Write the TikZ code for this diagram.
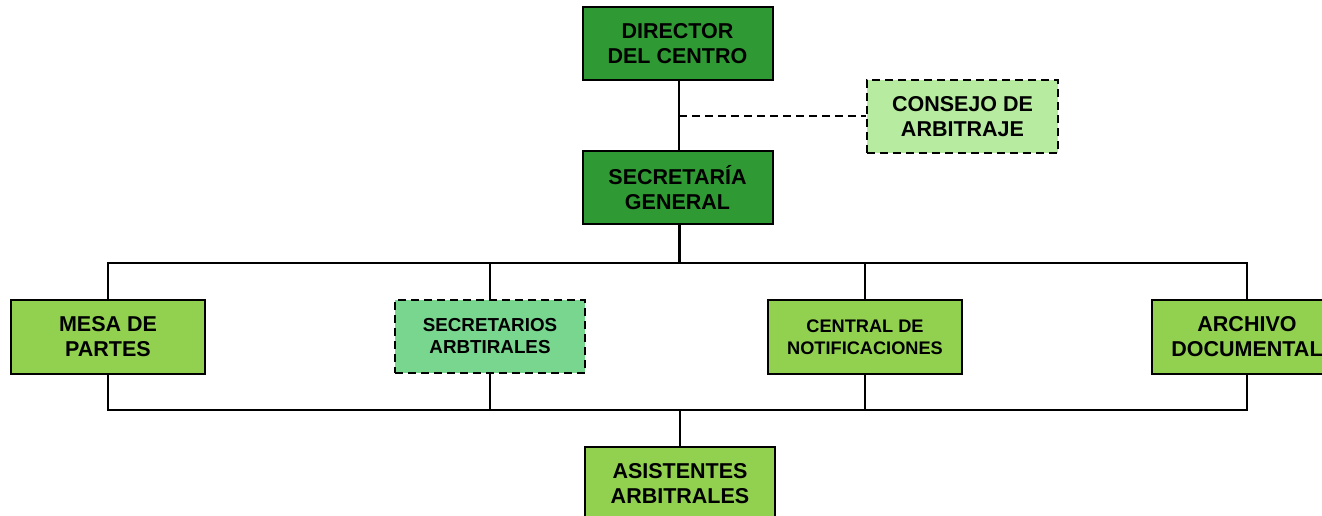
\documentclass[tikz,border=0pt]{standalone}
\usepackage{fontspec}
\setmainfont{Liberation Sans}
\definecolor{darkg}{HTML}{2F9A33}
\definecolor{lightg}{HTML}{92D050}
\definecolor{paleg}{HTML}{B7EB9F}
\definecolor{midg}{HTML}{79D68F}
\tikzset{
  box/.style={draw=black, line width=2pt, inner sep=0pt, align=center,
    minimum width=190pt, minimum height=73pt,
    font=\bfseries\fontsize{21.5}{25}\selectfont},
  smallbox/.style={box, font=\bfseries\fontsize{18.2}{22}\selectfont},
  dbox/.style={dash pattern=on 8pt off 5pt},
  link/.style={draw=black, line width=2pt},
}
\begin{document}
\begin{tikzpicture}[x=1pt,y=-1pt]
\useasboundingbox (0,0) rectangle (1322,516);
\clip (0,0) rectangle (1322,516);
\node[box, fill=darkg] (dir) at (677.5,44) {DIRECTOR\\DEL CENTRO};
\node[box, fill=paleg, dbox, minimum width=191pt] (cons) at (962.5,116.5) {CONSEJO DE\\ARBITRAJE};
\node[box, fill=darkg] (sec) at (677.5,187.5) {SECRETARÍA\\GENERAL};
\node[box, fill=lightg, minimum width=194pt, minimum height=74pt] (mesa) at (108,337) {MESA DE\\PARTES};
\node[smallbox, fill=midg, dbox, font=\bfseries\fontsize{18.8}{22}\selectfont] (secr) at (490,336.5) {SECRETARIOS\\ARBTIRALES};
\node[smallbox, fill=lightg, minimum width=194pt, minimum height=74pt] (cent) at (865,337) {CENTRAL DE\\NOTIFICACIONES};
\node[box, fill=lightg, minimum height=74pt] (arch) at (1247,337) {ARCHIVO\\DOCUMENTAL};
\node[box, fill=lightg] (asis) at (680,483.5) {ASISTENTES\\ARBITRALES};
\coordinate (j1) at (679,116.5);
\coordinate (top) at (679,263);
\coordinate (bot) at (680,410);
\draw[link] (dir.south -| j1) -- (sec.north -| j1);
\draw[link, dbox] (j1) -- (cons.west);
\draw[link, line width=3pt] (sec.south -| top) -- (top);
\draw[link] (mesa.north) |- (top);
\draw[link] (arch.north) |- (top);
\draw[link] (secr.north) -- (secr.north |- top);
\draw[link] (cent.north) -- (cent.north |- top);
\draw[link] (mesa.south) |- (bot);
\draw[link] (arch.south) |- (bot);
\draw[link] (secr.south) -- (secr.south |- bot);
\draw[link] (cent.south) -- (cent.south |- bot);
\draw[link] (bot) -- (asis.north -| bot);
\end{tikzpicture}
\end{document}
